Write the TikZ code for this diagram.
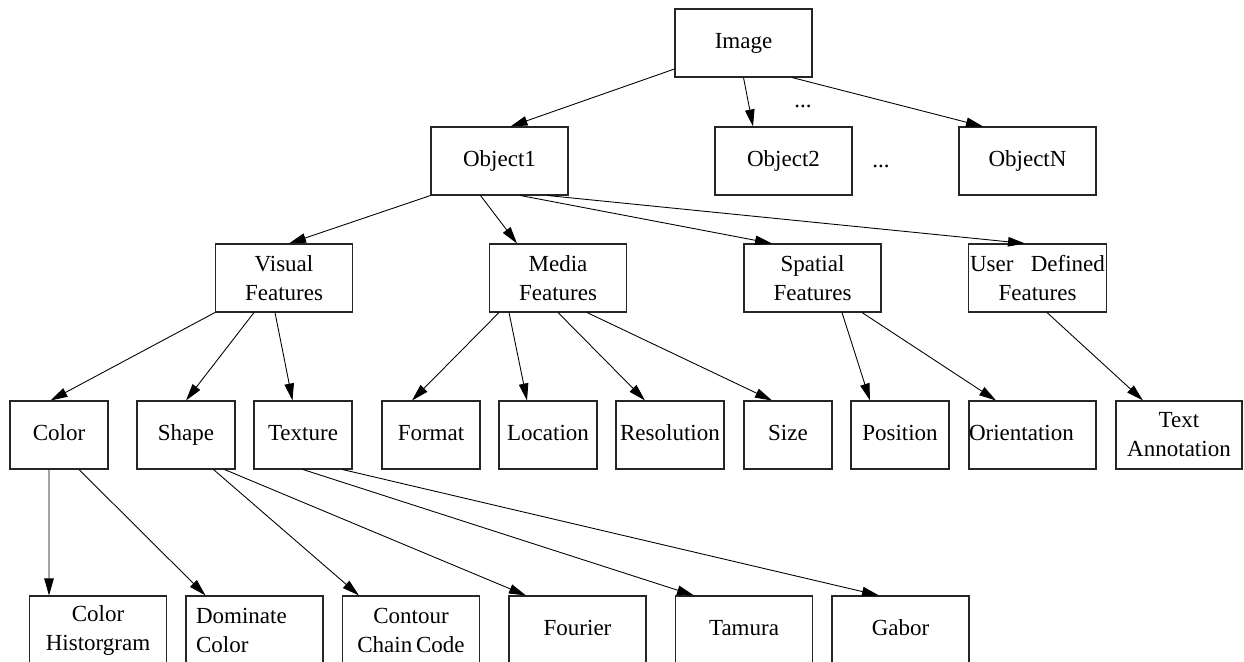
\documentclass[tikz,border=0pt]{standalone}
\usepackage{fontspec}
\setmainfont{Liberation Serif}
\usetikzlibrary{positioning, arrows.meta}

\begin{document}
\begin{tikzpicture}[
            x=0.02cm, y=-0.02cm,
            font=\fontsize{13.1pt}{16.5pt}\selectfont,
            box/.style={draw=black!85, line width=0.6pt, rectangle, minimum height=1.36cm, inner sep=1pt, align=center},
            one/.style={text depth=0.25em},
            wide/.style={box, minimum width=2.74cm},
            narrow/.style={box, one, minimum width=1.96cm},
            link/.style={-{Triangle[length=0.34cm, width=0.19cm]}, line width=0.5pt},
        ]
            \useasboundingbox (0,0) rectangle (1244,662);

            \node[wide, one] (image) at (743.5,43) {Image};
            \node[wide, one] (object1) at (499.5,161) {Object1};
            \node[wide, one] (object2) at (783.5,161) {Object2};
            \node[wide, one] (objectN) at (1027.5,161) {ObjectN};
            \node[anchor=base] (dotsa) at (803,108) {...};
            \node[anchor=base] (dotsb) at (881,168) {...};

            \node[wide] (visual) at (284,278) {Visual\\Features};
            \node[wide] (media) at (558,278) {Media\\Features};
            \node[wide] (spatial) at (812.5,278) {Spatial\\Features};
            \node[wide] (userdef) at (1037.5,278) {User \enspace Defined\\Features};

            \node[narrow] (color) at (59,435) {Color};
            \node[narrow] (shape) at (186,435) {Shape};
            \node[narrow] (texture) at (303,435) {Texture};
            \node[narrow] (format) at (431,435) {Format};
            \node[narrow] (location) at (548,435) {Location};
            \node[box, one, minimum width=2.16cm] (resolution) at (670,435) {Resolution};
            \node[box, one, minimum width=1.76cm] (size) at (788,435) {Size};
            \node[narrow] (position) at (900,435) {Position};
            \node[box, one, text width=2.54cm, inner xsep=0pt, align=left] (orientation) at (1032.5,435) {Orientation};
            \node[box, minimum width=2.52cm] (textann) at (1179,435) {Text\\Annotation};

            \node[wide] (colorhist) at (98,630) {Color\\Historgram};
            \node[box, text width=2.34cm, inner xsep=0.2cm, align=left] (dominate) at (254.5,630) {Dominate\\Color};
            \node[wide] (contour) at (411,630) {Contour\\Chain\,Code};
            \node[wide, one] (fourier) at (577.5,630) {Fourier};
            \node[wide, one] (tamura) at (744,630) {Tamura};
            \node[wide, one] (gabor) at (900.5,630) {Gabor};

            \draw[link] ([yshift=-0.52cm]image.west) -- ([xshift=0.22cm]object1.north);
            \draw[link] (image.south) -- ([xshift=-0.61cm]object2.north);
            \draw[link] ([xshift=0.97cm]image.south) -- ([xshift=-0.89cm]objectN.north);

            \draw[link] (object1.south west) -- ([xshift=0.1cm]visual.north);
            \draw[link] ([xshift=-0.38cm]object1.south) -- ([xshift=-0.82cm]media.north);
            \draw[link] ([xshift=0.42cm]object1.south) -- ([xshift=-0.81cm]spatial.north);
            \draw[link] ([xshift=0.96cm]object1.south) -- ([xshift=-0.25cm]userdef.north);

            \draw[link] (visual.south west) -- ([xshift=-0.17cm]color.north);
            \draw[link] ([xshift=-0.6cm]visual.south) -- (shape.north);
            \draw[link] ([xshift=-0.18cm]visual.south) -- ([xshift=-0.21cm]texture.north);
            \draw[link] ([xshift=-1.18cm]media.south) -- ([xshift=-0.38cm]format.north);
            \draw[link] ([xshift=-0.98cm]media.south) -- ([xshift=-0.42cm]location.north);
            \draw[link] (media.south) -- ([xshift=-0.5cm]resolution.north);
            \draw[link] ([xshift=0.58cm]media.south) -- ([xshift=-0.32cm]size.north);
            \draw[link] ([xshift=0.59cm]spatial.south) -- ([xshift=-0.6cm]position.north);
            \draw[link] ([xshift=0.99cm]spatial.south) -- ([xshift=-0.73cm]orientation.north);
            \draw[link] ([xshift=0.19cm]userdef.south) -- ([xshift=-0.72cm]textann.north);

            \draw[link] ([xshift=-0.2cm]color.south) -- ([xshift=-0.98cm]colorhist.north);
            \draw[link] ([xshift=0.4cm]color.south) -- ([xshift=-0.98cm]dominate.north);
            \draw[link] ([xshift=0.55cm]shape.south) -- ([xshift=-1.04cm]contour.north);
            \draw[link] ([xshift=0.77cm]shape.south) -- ([xshift=-1.03cm]fourier.north);
            \draw[link] (texture.south) -- ([xshift=-1cm]tamura.north);
            \draw[link] ([xshift=0.79cm]texture.south) -- ([xshift=-0.43cm]gabor.north);
        \end{tikzpicture}
\end{document}
